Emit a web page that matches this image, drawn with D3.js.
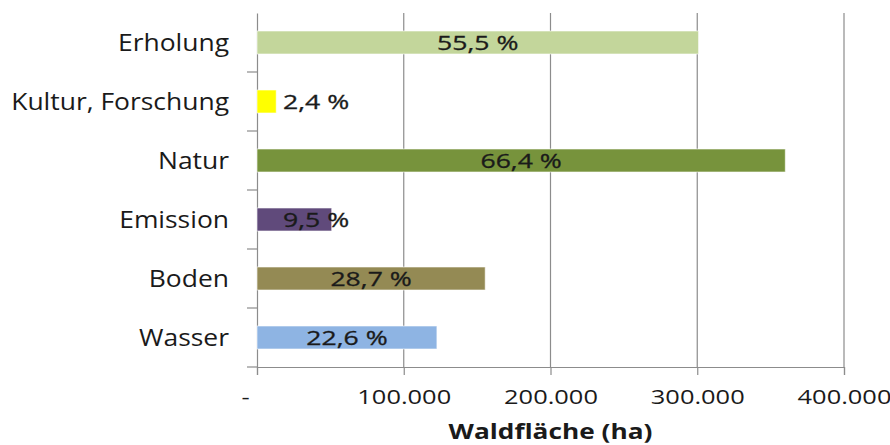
<!DOCTYPE html>
<html>
<head>
<meta charset="utf-8">
<script src="https://cdn.jsdelivr.net/npm/d3@7"></script>
<style>
  body { margin: 0; background: #fff; }
  svg text { font-family: "Open Sans", sans-serif; fill: #1a1a1a; }
</style>
</head>
<body>
<div id="chart"></div>
<script>
// Waldfläche je Funktion (ha), Anteil in %
let categories = ['Erholung', 'Kultur, Forschung', 'Natur', 'Emission', 'Boden', 'Wasser']
let values = [300900, 13100, 360000, 50900, 155500, 122600]
let shares = ['55,5 %', '2,4 %', '66,4 %', '9,5 %', '28,7 %', '22,6 %']
let colors = ['#c3d69b', '#ffff00', '#77933c', '#604a7b', '#948a54', '#8eb4e3']
let ticks = [0, 100000, 200000, 300000, 400000]

let svgWidth = 890
let svgHeight = 445
let padding = { left: 257, right: 46, top: 13, bottom: 78 }

let svg = d3.select('#chart').append('svg')
    .attr('width', svgWidth)
    .attr('height', svgHeight)

let x = d3.scaleLinear()
    .domain([0, 400000])
    .range([padding.left, svgWidth - padding.right])

let y = d3.scaleBand()
    .domain(categories)
    .range([padding.top, svgHeight - padding.bottom])
    .paddingInner(0.61)
    .paddingOuter(0.305)

let fmt = d => d === 0 ? '-' : d3.format(',')(d).replace(/,/g, '.')

// the original text is drawn horizontally stretched
let stretch = { cat: 1.15, tick: 1.24, label: 1.33, title: 1.25 }

// gridlines
svg.append('g')
    .selectAll('line')
    .data(ticks.slice(1))
    .enter()
    .append('line')
    .attr('x1', d => x(d)).attr('x2', d => x(d))
    .attr('y1', padding.top).attr('y2', svgHeight - padding.bottom)
    .attr('stroke', '#8c8c8c')
    .attr('stroke-width', 1.2)

// x axis
let axis_x = d3.axisBottom(x)
    .tickValues(ticks)
    .tickSize(8)
    .tickPadding(14)
    .tickFormat(fmt)

let gx = svg.append('g')
    .attr('transform', `translate(0, ${svgHeight - padding.bottom})`)
    .call(axis_x)
gx.select('.domain').attr('stroke', '#8c8c8c').attr('stroke-width', 1.2)
gx.selectAll('.tick line').attr('stroke', '#8c8c8c').attr('stroke-width', 1.2)
gx.selectAll('.tick text')
    .attr('font-size', '20.5px')
    .attr('fill', '#1a1a1a')
    .attr('transform', d => d === 0 ? `translate(-12, 0) scale(${stretch.tick}, 1)` : `scale(${stretch.tick}, 1)`)

svg.append('text')
    .attr('transform', `translate(${x(200000)}, 439) scale(${stretch.title}, 1)`)
    .attr('text-anchor', 'middle')
    .attr('font-size', '21px')
    .attr('font-weight', 'bold')
    .text('Waldfläche (ha)')

// y axis
let axis_y = d3.axisLeft(y)
    .tickSize(0)
    .tickPadding(0)

let gy = svg.append('g')
    .attr('transform', `translate(${padding.left}, 0)`)
    .call(axis_y)
gy.select('.domain').attr('stroke', '#8c8c8c').attr('stroke-width', 1.2)
gy.selectAll('.tick text')
    .attr('x', 0)
    .attr('dy', '0.38em')
    .attr('font-size', '23px')
    .attr('fill', '#1a1a1a')
    .attr('transform', `translate(-28, 0) scale(${stretch.cat}, 1)`)

// category boundary ticks
let step = y.step()
let bounds = d3.range(categories.length + 1).map(i => padding.top + i * step)
gy.selectAll('.bound')
    .data(bounds.slice(1))
    .enter()
    .append('line')
    .attr('class', 'bound')
    .attr('x1', -10).attr('x2', 0)
    .attr('y1', d => d).attr('y2', d => d)
    .attr('stroke', '#8c8c8c')
    .attr('stroke-width', 1.2)

// bars
svg.append('g')
    .selectAll('rect')
    .data(categories)
    .enter()
    .append('rect')
    .attr('x', x(0))
    .attr('y', d => y(d))
    .attr('width', (d, i) => x(values[i]) - x(0))
    .attr('height', y.bandwidth())
    .attr('fill', (d, i) => colors[i])
    .attr('stroke', 'rgba(255,255,255,0.6)')
    .attr('stroke-width', 1)

// data labels
let labels = svg.append('g')
    .selectAll('text')
    .data(categories)
    .enter()
    .append('text')
    .attr('dy', '0.36em')
    .attr('font-size', '20px')
    .attr('stroke', '#1a1a1a')
    .attr('stroke-width', 0.3)
    .text((d, i) => shares[i])

labels.each(function(d, i) {
    let w = this.getComputedTextLength() * stretch.label
    let center = (x(0) + x(values[i])) / 2
    let left = Math.max(center - w / 2, x(0) + 26)
    d3.select(this)
        .attr('transform', `translate(${left}, ${y(d) + y.bandwidth() / 2}) scale(${stretch.label}, 1)`)
})
</script>
</body>
</html>
